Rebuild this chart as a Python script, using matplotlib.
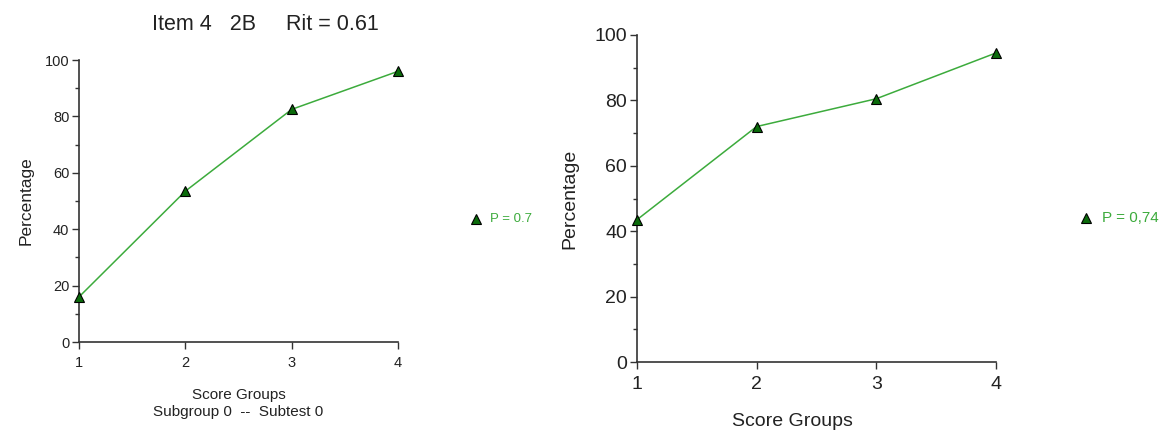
import matplotlib
matplotlib.use("Agg")
import matplotlib.pyplot as plt
from matplotlib.ticker import MultipleLocator

plt.rcParams['font.family'] = ['Liberation Sans', 'DejaVu Sans']

# data
score_groups = [1, 2, 3, 4]
pct_left = [16, 53.5, 82.5, 96]
pct_right = [43.5, 72, 80.5, 94.5]
title_left = "Item 4   2B     Rit = 0.61"
legend_left = "P = 0.7"
legend_right = "P = 0,74"

line_col = "#3cab3c"
mark_col = "#0b6b0b"
text_col = "#222222"

fig = plt.figure(figsize=(11.64, 4.32), dpi=100)
ax1 = fig.add_axes([0.0679, 0.2083, 0.2741, 0.6528])
ax2 = fig.add_axes([0.5472, 0.162, 0.3084, 0.757])


def style_axes(ax, fs):
    ax.set_xlim(1, 4)
    ax.set_ylim(0, 100)
    ax.set_xticks(score_groups)
    ax.yaxis.set_major_locator(MultipleLocator(20))
    ax.yaxis.set_minor_locator(MultipleLocator(10))
    for s in ['top', 'right']:
        ax.spines[s].set_visible(False)
    for s in ['left', 'bottom']:
        ax.spines[s].set_color('#333333')
        ax.spines[s].set_linewidth(1.2)
    ax.tick_params(axis='both', which='major', length=5, width=1, color='#333333',
                   labelsize=fs, labelcolor=text_col, pad=2)
    ax.tick_params(axis='y', which='minor', length=3, width=1, color='#333333')
    ax.tick_params(axis='x', pad=5)


def draw(ax, vals):
    ax.plot(score_groups, vals, color=line_col, linewidth=1.1, marker='^',
            markersize=7, markerfacecolor=mark_col, markeredgecolor='black',
            markeredgewidth=0.8, clip_on=False, zorder=3)


# left panel
draw(ax1, pct_left)
style_axes(ax1, 10.5)
fig.text(265 / 1164, 1 - 25 / 432, title_left, fontsize=15.5, color=text_col,
         ha='center', va='center')
ax1.set_ylabel("Percentage", fontsize=12.5, color=text_col, labelpad=8)
ax1.set_xlabel("Score Groups\nSubgroup 0  --  Subtest 0", fontsize=11,
               color=text_col, labelpad=13, linespacing=1.3)

# right panel
draw(ax2, pct_right)
style_axes(ax2, 14)
ax2.set_ylabel("Percentage", fontsize=14, color=text_col, labelpad=12)
ax2.set_xlabel("Score Groups", fontsize=14, color=text_col)
ax2.xaxis.set_label_coords(0.432, -0.155)

# legends to the right of each panel
fig.text(490 / 1164, 0.493, legend_left, fontsize=9.5, color=line_col, va='center')
fig.lines.append(plt.Line2D([476 / 1164], [1 - 219 / 432], transform=fig.transFigure,
                            marker='^', markersize=7, markerfacecolor=mark_col,
                            markeredgecolor='black', markeredgewidth=0.8, linestyle=''))
fig.text(0.947, 0.495, legend_right, fontsize=11, color=line_col, va='center')
fig.lines.append(plt.Line2D([1086 / 1164], [1 - 218 / 432], transform=fig.transFigure,
                            marker='^', markersize=7, markerfacecolor=mark_col,
                            markeredgecolor='black', markeredgewidth=0.8, linestyle=''))

fig.savefig("out.png", dpi=100)
